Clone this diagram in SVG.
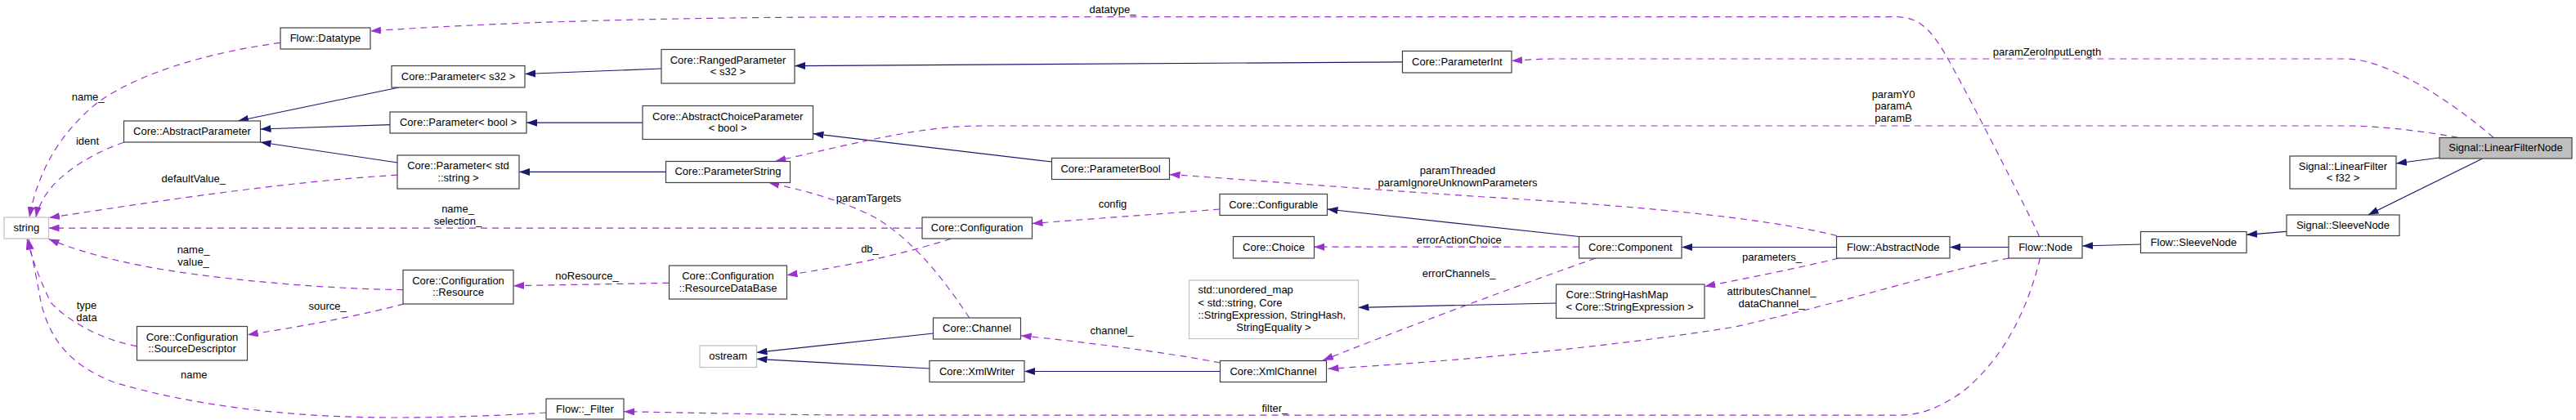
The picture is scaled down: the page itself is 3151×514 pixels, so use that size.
<svg xmlns="http://www.w3.org/2000/svg" width="3151" height="514" viewBox="0 0 3151 514">
<style>
.node rect{fill:#fff;stroke:#404040;stroke-width:1.2}
.node.ext rect{stroke:#bfbfbf}
.node.focus rect{fill:#bfbfbf}
text{font-family:"Liberation Sans",Arial,Helvetica,sans-serif;font-size:13px;fill:#000}
.node text{text-anchor:middle}
.node text.l{text-anchor:start}
.inh{fill:none;stroke:#191970;stroke-width:1.2;marker-end:url(#ah-inh)}
.use{fill:none;stroke:#9a32cd;stroke-width:1.2;stroke-dasharray:8,6;marker-end:url(#ah-use)}
.lbl{text-anchor:middle}
</style>
<defs>
<marker id="ah-inh" viewBox="0 0 13 9" refX="13" refY="4.5" markerWidth="13" markerHeight="9" markerUnits="userSpaceOnUse" orient="auto"><path d="M0,0L13,4.5L0,9z" fill="#191970"/></marker>
<marker id="ah-use" viewBox="0 0 13 9" refX="13" refY="4.5" markerWidth="13" markerHeight="9" markerUnits="userSpaceOnUse" orient="auto"><path d="M0,0L13,4.5L0,9z" fill="#9a32cd"/></marker>
</defs>
<rect width="3151" height="514" fill="#fff"/>
<g id="connectors">
<path class="inh" d="M488,107 L291,148"/>
<path class="inh" d="M477,152.6 L318.5,158"/>
<path class="inh" d="M486,199 L318.5,174"/>
<path class="inh" d="M809,84 L642,90.5"/>
<path class="inh" d="M786,150.2 L644,150.2"/>
<path class="inh" d="M814.5,210.4 L635,210.4"/>
<path class="inh" d="M1715.5,75.8 L972,80.6"/>
<path class="inh" d="M1286.5,198 L994.5,163.6"/>
<path class="inh" d="M1931.5,289.5 L1623.5,256"/>
<path class="inh" d="M2246.5,302.5 L2057,302.5"/>
<path class="inh" d="M2457,302.5 L2385,302.5"/>
<path class="inh" d="M2618.5,299 L2547,301"/>
<path class="inh" d="M2797,283.3 L2748,287.3"/>
<path class="inh" d="M2984,193 L2931,200"/>
<path class="inh" d="M3036.7,194 L2896.7,263"/>
<path class="inh" d="M1141.5,408 L925.5,431.4"/>
<path class="inh" d="M1137,451 L925.5,439.3"/>
<path class="inh" d="M1492.5,454.5 L1253,454.5"/>
<path class="inh" d="M1903.5,371 L1661.5,376.3"/>

<path class="use" d="M2494.7,289.5 C2480,258 2420,140 2385,76 C2365,40 2350,20.7 2320,20.7 L1100,20.7 C800,20.7 600,28 453,38"/>
<text class="lbl" x="1361" y="16">datatype_</text>
<path class="use" d="M3050,168.3 C3000,125 2920,72 2870,72 L1900,72 C1880,72 1865,73.5 1849,74.5"/>
<text class="lbl" x="2504" y="67.5">paramZeroInputLength</text>
<path class="use" d="M3006.7,168.3 C2950,158 2900,154 2870,154 L1200,154 C1130,154 1060,172 948.5,197.3"/>
<text class="lbl" x="2316" y="119.5">paramY0</text>
<text class="lbl" x="2316" y="134.3">paramA</text>
<text class="lbl" x="2316" y="149">paramB</text>
<path class="use" d="M2247,288.5 C2150,265 2000,252 1800,240 C1650,230 1500,218 1430.5,213.5"/>
<text class="lbl" x="1783" y="213">paramThreaded</text>
<text class="lbl" x="1783" y="228">paramIgnoreUnknownParameters</text>
<path class="use" d="M1492,256 C1420,262 1330,268 1262.5,273.6"/>
<text class="lbl" x="1361" y="254">config</text>
<path class="use" d="M1931.5,302.2 L1607.2,302.2"/>
<text class="lbl" x="1784.7" y="298">errorActionChoice</text>
<path class="use" d="M1951.6,316 C1870,345 1760,385 1618,441"/>
<text class="lbl" x="1784.6" y="339">errorChannels_</text>
<path class="use" d="M2249,316 C2200,328 2130,342 2085.2,350.4"/>
<text class="lbl" x="2167.5" y="318.7">parameters_</text>
<path class="use" d="M2457.5,316 C2380,330 2250,372 2120,400.4 C1960,426 1780,442 1624.5,451.3"/>
<text class="lbl" x="2167" y="360.8">attributesChannel_</text>
<text class="lbl" x="2167" y="375.6">dataChannel_</text>
<path class="use" d="M2495.4,316 C2480,380 2450,440 2400,480 C2370,500 2350,508.2 2320,508.2 L1100,508.2 C950,508.2 850,505 763,503.7"/>
<text class="lbl" x="1559.4" y="503.5">filter_</text>
<path class="use" d="M1492.6,444 C1420,430 1320,418 1248.7,410.7"/>
<text class="lbl" x="1360" y="409">channel_</text>
<path class="use" d="M1185.7,389 C1160,350 1120,295 1070,266 C1030,245 980,232 940,223.5"/>
<text class="lbl" x="1062.6" y="247">paramTargets</text>
<path class="use" d="M1163.3,292.2 C1120,306 1060,322 962.5,336.7"/>
<text class="lbl" x="1064" y="309">db_</text>
<path class="use" d="M1128,279.1 L59.5,279.1"/>
<text class="lbl" x="560" y="259.7">name_</text>
<text class="lbl" x="560" y="274.7">selection_</text>
<path class="use" d="M818.3,346.3 L628,349.7"/>
<text class="lbl" x="718" y="341.8">noResource_</text>
<path class="use" d="M493,354.6 C420,354 300,346 200,330 C130,318 90,305 59.5,292.5"/>
<text class="lbl" x="236.5" y="309.5">name_</text>
<text class="lbl" x="236.5" y="324.5">value_</text>
<path class="use" d="M494,371.8 C450,384 380,398 302.7,409.7"/>
<text class="lbl" x="400.7" y="378.5">source_</text>
<path class="use" d="M167.5,423.8 C120,415 80,390 62,370 C50,345 40,320 33,292.5"/>
<text class="lbl" x="106" y="378">type</text>
<text class="lbl" x="106" y="393">data</text>
<path class="use" d="M668,505 C620,508 560,511 480,511 C350,511 230,495 140,468 C80,445 60,410 50,370 C45,340 38,310 35,292.5"/>
<text class="lbl" x="237.3" y="463">name</text>
<path class="use" d="M343,52.3 C250,65 170,90 120,125 C70,165 45,215 36,266"/>
<text class="lbl" x="107.6" y="123">name_</text>
<path class="use" d="M151.5,174.3 C110,188 70,215 55,240 C48,252 45,260 44,266"/>
<text class="lbl" x="107" y="177">ident</text>
<path class="use" d="M486,214.2 C350,222 180,248 60,266.5"/>
<text class="lbl" x="236.8" y="223">defaultValue_</text>
</g>

<g id="n_lfn" class="node focus"><rect x="2984" y="168.5" width="162" height="25.5"/><text x="3065" y="185">Signal::LinearFilterNode</text></g>
<g id="n_lf" class="node"><rect x="2801" y="191" width="130" height="40"/><text x="2866" y="207.5">Signal::LinearFilter</text><text x="2866" y="222">&lt; f32 &gt;</text></g>
<g id="n_ssn" class="node"><rect x="2797" y="263" width="138" height="25.5"/><text x="2866" y="279.5">Signal::SleeveNode</text></g>
<g id="n_fsn" class="node"><rect x="2618.5" y="283.5" width="129.5" height="26"/><text x="2683.3" y="300.5">Flow::SleeveNode</text></g>
<g id="n_node" class="node"><rect x="2457" y="289.5" width="90" height="26.5"/><text x="2502" y="306.5">Flow::Node</text></g>
<g id="n_an" class="node"><rect x="2246.5" y="289.5" width="138.5" height="26.5"/><text x="2315.8" y="306.5">Flow::AbstractNode</text></g>
<g id="n_comp" class="node"><rect x="1931.5" y="289.5" width="125.5" height="26.5"/><text x="1994.3" y="306.5">Core::Component</text></g>
<g id="n_cfgable" class="node"><rect x="1492" y="237.5" width="131.5" height="26"/><text x="1557.8" y="254.5">Core::Configurable</text></g>
<g id="n_choice" class="node"><rect x="1508.5" y="289.5" width="99" height="26.5"/><text x="1558" y="306.5">Core::Choice</text></g>
<g id="n_umap" class="node ext"><rect x="1454.5" y="343" width="207" height="71.5"/><text class="l" x="1465.5" y="359">std::unordered_map</text><text class="l" x="1465.5" y="374.5">&lt; std::string, Core</text><text class="l" x="1465.5" y="389.5">::StringExpression, StringHash,</text><text x="1558" y="404.5">StringEquality &gt;</text></g>
<g id="n_shm" class="node"><rect x="1903.5" y="348" width="181.5" height="41.5"/><text class="l" x="1915.5" y="364.5">Core::StringHashMap</text><text class="l" x="1915.5" y="379.5">&lt; Core::StringExpression &gt;</text></g>
<g id="n_xmlch" class="node"><rect x="1492.5" y="441.5" width="130" height="26"/><text x="1557.5" y="458.5">Core::XmlChannel</text></g>
<g id="n_xmlw" class="node"><rect x="1137" y="441.5" width="116" height="26"/><text x="1195" y="458.5">Core::XmlWriter</text></g>
<g id="n_chan" class="node"><rect x="1141.5" y="389" width="107" height="26"/><text x="1195" y="406">Core::Channel</text></g>
<g id="n_ostream" class="node ext"><rect x="856" y="423" width="69.5" height="26.5"/><text x="890.7" y="440">ostream</text></g>
<g id="n_filter" class="node"><rect x="668" y="488" width="95" height="25"/><text x="715.5" y="504.5">Flow::_Filter</text></g>
<g id="n_cfg" class="node"><rect x="1128" y="266" width="134.5" height="26"/><text x="1195.2" y="283">Core::Configuration</text></g>
<g id="n_rdb" class="node"><rect x="818.5" y="325" width="144" height="41"/><text x="890.5" y="342">Core::Configuration</text><text x="890.5" y="356.5">::ResourceDataBase</text></g>
<g id="n_res" class="node"><rect x="493" y="330.5" width="135" height="41.5"/><text x="560.5" y="347.7">Core::Configuration</text><text x="560.5" y="362.3">::Resource</text></g>
<g id="n_sd" class="node"><rect x="167.5" y="399.5" width="135" height="41.5"/><text x="235" y="416.7">Core::Configuration</text><text x="235" y="431.3">::SourceDescriptor</text></g>
<g id="n_string" class="node ext"><rect x="5" y="266" width="54.5" height="26"/><text x="32.3" y="283">string</text></g>
<g id="n_ap" class="node"><rect x="151.5" y="148" width="167" height="26"/><text x="235" y="165">Core::AbstractParameter</text></g>
<g id="n_ps32" class="node"><rect x="479" y="80.5" width="163" height="26.5"/><text x="560.5" y="97.5">Core::Parameter&lt; s32 &gt;</text></g>
<g id="n_pbool" class="node"><rect x="477" y="137" width="167" height="26"/><text x="560.5" y="154">Core::Parameter&lt; bool &gt;</text></g>
<g id="n_pstr" class="node"><rect x="486" y="190" width="149" height="41"/><text x="560.5" y="207">Core::Parameter&lt; std</text><text x="560.5" y="221.5">::string &gt;</text></g>
<g id="n_rp" class="node"><rect x="809" y="60.5" width="163" height="41.5"/><text x="890.5" y="77.8">Core::RangedParameter</text><text x="890.5" y="92.4">&lt; s32 &gt;</text></g>
<g id="n_acp" class="node"><rect x="786" y="129.5" width="208.5" height="41"/><text x="890.2" y="146.5">Core::AbstractChoiceParameter</text><text x="890.2" y="161">&lt; bool &gt;</text></g>
<g id="n_pstring" class="node"><rect x="814.5" y="197.5" width="152" height="26"/><text x="890.5" y="214.3">Core::ParameterString</text></g>
<g id="n_pint" class="node"><rect x="1715.5" y="62.5" width="133.5" height="26.5"/><text x="1782.3" y="79.5">Core::ParameterInt</text></g>
<g id="n_pbool2" class="node"><rect x="1286.5" y="193.5" width="144" height="26"/><text x="1358.5" y="210.5">Core::ParameterBool</text></g>
<g id="n_dt" class="node"><rect x="343" y="34" width="110" height="26"/><text x="398" y="51">Flow::Datatype</text></g>
</svg>
